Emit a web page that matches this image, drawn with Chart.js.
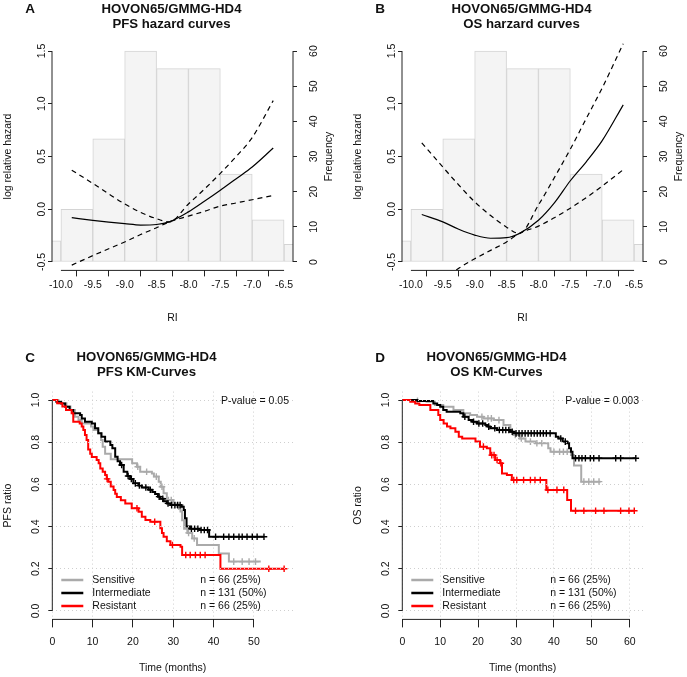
<!DOCTYPE html>
<html>
<head>
<meta charset="utf-8">
<title>HOVON65/GMMG-HD4 hazard and KM curves</title>
<script src="https://cdn.jsdelivr.net/npm/chart.js@4.4.1/dist/chart.umd.min.js"></script>
<style>
  html, body { margin: 0; padding: 0; background: #fff; }
  #fig { position: relative; width: 687px; height: 677px; overflow: hidden; }
  #fig canvas { position: absolute; }
</style>
</head>
<body>
<div id="fig">
  <canvas id="panelA" width="343" height="330" style="left:0;top:0"></canvas>
  <canvas id="panelB" width="343" height="330" style="left:350px;top:0"></canvas>
  <canvas id="panelC" width="343" height="328" style="left:0;top:349px"></canvas>
  <canvas id="panelD" width="343" height="328" style="left:350px;top:349px"></canvas>
</div>
<script>
const FONT = '"Liberation Sans", Arial, Helvetica, sans-serif';

// --- RI histogram (same cohort in A and B) ---
const riBinMids = [-10.25, -9.75, -9.25, -8.75, -8.25, -7.75, -7.25, -6.75, -6.25];
const riBinCounts = [6, 15, 35, 60, 55, 55, 25, 12, 5];

// --- spline fits of log relative hazard against RI ---
const riGrid = [-9.83, -9.5, -9.25, -9.0, -8.75, -8.5, -8.3, -8.0, -7.75, -7.5, -7.25, -7.0, -6.67];
const pfsFit = [-0.08, -0.105, -0.122, -0.137, -0.15, -0.145, -0.12, -0.025, 0.075, 0.18, 0.29, 0.40, 0.58];
const pfsUpper = [0.37, 0.245, 0.145, 0.05, -0.03, -0.09, -0.12, 0.05, 0.19, 0.34, 0.5, 0.68, 1.03];
const pfsLower = [-0.53, -0.44, -0.375, -0.31, -0.24, -0.175, -0.12, -0.065, -0.02, 0.03, 0.06, 0.09, 0.13];
const osFit = [-0.05, -0.12, -0.19, -0.245, -0.275, -0.27, -0.23, -0.105, 0.06, 0.27, 0.45, 0.65, 0.99];
const osUpper = [0.63, 0.40, 0.23, 0.07, -0.06, -0.17, -0.23, 0.04, 0.30, 0.57, 0.86, 1.15, 1.57];
const osLower = [-0.85, -0.67, -0.56, -0.47, -0.39, -0.31, -0.23, -0.16, -0.08, 0.01, 0.11, 0.22, 0.375];

// --- Kaplan-Meier groups ---
const groupNames = ["Sensitive", "Intermediate", "Resistant"];
const groupCounts = [66, 131, 66];
const groupPercent = [25, 50, 25];
const groupColors = ["#aaaaaa", "#000000", "#ff0000"];

// steps are [months, survival after the drop]; censor lists are months only
const pfsSensSteps = [[0,1],[1.5,0.985],[3.5,0.969],[4.5,0.953],[5.6,0.921],[6.5,0.905],[7.3,0.889],[9.6,0.874],[10.2,0.858],[11.4,0.842],[12.1,0.81],[12.5,0.779],[13.1,0.745],[14.5,0.719],[19.8,0.70],[21.0,0.684],[21.8,0.66],[24.7,0.652],[25.2,0.637],[26.4,0.613],[26.9,0.589],[27.6,0.558],[28.4,0.526],[30.0,0.51],[30.9,0.494],[31.8,0.471],[32.2,0.43],[32.7,0.39],[33.5,0.37],[34.7,0.344],[35.9,0.313],[41.3,0.273],[43.8,0.234],[51.7,0.234]];
const pfsSensCens = [21.2, 23.4, 25.8, 27.2, 28.8, 29.5, 31.4, 33.8, 35.2, 45.0, 47.1, 48.8, 50.4];
const pfsInterSteps = [[0,1],[1,0.992],[2.2,0.984],[3.2,0.968],[4.3,0.953],[5.2,0.937],[6.9,0.929],[7.3,0.913],[8.1,0.897],[9.8,0.889],[10.6,0.866],[11.4,0.842],[12.2,0.826],[13.1,0.803],[14.4,0.787],[14.9,0.771],[15.6,0.731],[16.2,0.71],[16.8,0.692],[17.7,0.66],[18.6,0.64],[19.3,0.626],[20.1,0.605],[21.4,0.595],[22.2,0.585],[23.9,0.575],[24.8,0.564],[25.5,0.554],[26.2,0.542],[26.8,0.532],[27.6,0.52],[28.4,0.51],[29.3,0.502],[32.0,0.494],[32.6,0.479],[32.9,0.44],[33.3,0.40],[34.2,0.39],[36.5,0.384],[38.9,0.352],[52.5,0.352]];
const pfsInterCens = [17.2, 18.8, 19.6, 20.6, 21.6, 23.2, 24.3, 26.5, 27.4, 28.7, 29.6, 30.4, 31.1, 31.7, 34.5, 35.3, 36.1, 36.9, 37.7, 38.5, 40.5, 42.5, 43.8, 45.0, 46.3, 47.1, 48.3, 49.6, 50.8, 52.5];
const pfsResSteps = [[0,1],[1.2,0.985],[2.5,0.969],[3.4,0.953],[4.8,0.937],[5.2,0.897],[6.8,0.889],[7.3,0.874],[7.7,0.858],[8.1,0.834],[8.5,0.81],[8.9,0.765],[9.4,0.745],[9.8,0.73],[11.0,0.716],[11.5,0.70],[11.9,0.676],[12.5,0.66],[13.1,0.645],[13.5,0.626],[13.9,0.613],[14.5,0.59],[15.2,0.573],[15.6,0.556],[16.0,0.54],[17.0,0.525],[18.1,0.51],[19.7,0.487],[21.4,0.47],[22.2,0.447],[23.1,0.431],[24.3,0.423],[26.8,0.392],[27.2,0.37],[27.6,0.352],[28.4,0.33],[29.3,0.313],[31.8,0.305],[32.2,0.265],[41.7,0.2],[57.7,0.2]];
const pfsResCens = [13.6, 21.0, 25.4, 29.8, 33.1, 34.2, 35.5, 36.7, 37.9, 53.7, 57.5];

const osSensSteps = [[0,1],[3,0.996],[6.4,0.992],[8.6,0.976],[10.8,0.968],[13.5,0.953],[16.1,0.937],[17.9,0.929],[19.7,0.921],[21.4,0.913],[24.1,0.905],[26.7,0.882],[28.5,0.85],[29.5,0.834],[31.0,0.818],[32.5,0.803],[35.0,0.795],[38.5,0.771],[39.1,0.755],[44.5,0.74],[45.3,0.69],[47.2,0.613],[52.3,0.613]];
const osSensCens = [4.0, 21.0, 22.6, 23.5, 25.5, 29.8, 31.4, 33.8, 35.5, 36.8, 40.0, 41.5, 42.5, 43.5, 47.9, 49.2, 50.5, 51.9];
const osInterSteps = [[0,1],[4,0.996],[8.2,0.984],[9.2,0.976],[10,0.968],[10.8,0.953],[11.7,0.945],[15.3,0.937],[16.1,0.921],[17.5,0.905],[18.5,0.897],[19.7,0.889],[21.9,0.882],[22.5,0.874],[23.2,0.866],[25,0.858],[28.5,0.85],[29.4,0.842],[40.5,0.826],[41.2,0.818],[42.3,0.803],[43.5,0.795],[44,0.771],[44.5,0.755],[44.9,0.724],[61.6,0.724]];
const osInterCens = [16.5, 18.8, 20.2, 21.2, 22.8, 24.4, 25.6, 26.5, 27.3, 28.1, 29.0, 30.0, 30.8, 31.6, 32.4, 33.2, 34.0, 34.8, 35.6, 36.4, 37.2, 38.0, 39.0, 41.8, 43.0, 45.7, 46.6, 47.4, 48.3, 49.6, 50.5, 51.9, 56.3, 57.6, 61.6];
const osResSteps = [[0,1],[2.1,0.992],[3.4,0.984],[4.5,0.976],[7.4,0.953],[9.5,0.929],[10,0.905],[10.9,0.889],[11.8,0.874],[12.7,0.866],[14,0.85],[14.9,0.826],[15.8,0.818],[19.3,0.803],[20.5,0.779],[22.3,0.771],[23.2,0.739],[24.5,0.716],[25.8,0.70],[26.3,0.652],[27.6,0.645],[28.9,0.621],[38.0,0.574],[43.5,0.526],[44.5,0.475],[61.2,0.475]];
const osResCens = [21.4, 23.6, 24.2, 25.0, 26.0, 29.4, 30.2, 32.0, 33.8, 35.0, 36.4, 38.4, 40.8, 42.6, 45.7, 47.9, 51.0, 53.2, 57.6, 59.8, 61.2];

Chart.defaults.font.family = FONT;
Chart.defaults.font.size = 10.5;
Chart.defaults.color = "#111";
Chart.defaults.animation = false;
Chart.defaults.plugins.legend.display = false;
Chart.defaults.plugins.tooltip.enabled = false;

// R draws its axis line only from the first to the last tick
const rAxes = {
  id: "rAxes",
  afterDraw(chart, args, opts) {
    const { ctx, chartArea: a } = chart;
    ctx.save();
    ctx.strokeStyle = "#222";
    ctx.lineWidth = 1;
    (opts.ids || []).forEach((id) => {
      const s = chart.scales[id];
      const p0 = s.getPixelForValue(s.ticks[0].value);
      const p1 = s.getPixelForValue(s.ticks[s.ticks.length - 1].value);
      ctx.beginPath();
      if (s.isHorizontal()) {
        ctx.moveTo(p0, a.bottom);
        ctx.lineTo(p1, a.bottom);
      } else {
        const x = s.position === "right" ? a.right : a.left;
        ctx.moveTo(x, p0);
        ctx.lineTo(x, p1);
      }
      ctx.stroke();
    });
    ctx.restore();
  },
};

// panel letter, right axis title, p-value and the KM legend
const decor = {
  id: "decor",
  afterDraw(chart, args, o) {
    const { ctx, chartArea: a } = chart;
    ctx.save();
    ctx.fillStyle = "#111";
    ctx.textBaseline = "middle";
    if (o.letter) {
      ctx.font = "bold 13.5px " + FONT;
      ctx.textAlign = "center";
      ctx.fillText(o.letter, 30, o.letterY);
    }
    ctx.font = "10.5px " + FONT;
    if (o.rightTitle) {
      ctx.save();
      ctx.translate(a.right + 36, (a.top + a.bottom) / 2);
      ctx.rotate(-Math.PI / 2);
      ctx.textAlign = "center";
      ctx.fillText(o.rightTitle, 0, 0);
      ctx.restore();
    }
    if (o.pValue) {
      ctx.textAlign = "right";
      ctx.fillText(o.pValue, a.right - 4, a.top + 9.5);
    }
    if (o.legend) {
      groupNames.forEach((name, i) => {
        const y = a.bottom - 39.4 + 13 * i;
        ctx.strokeStyle = groupColors[i];
        ctx.lineWidth = 2.5;
        ctx.beginPath();
        ctx.moveTo(a.left + 9, y);
        ctx.lineTo(a.left + 31, y);
        ctx.stroke();
        ctx.textAlign = "left";
        ctx.fillText(name, a.left + 40, y);
        ctx.fillText(`n = ${groupCounts[i]} (${groupPercent[i]}%)`, a.left + 148, y);
      });
    }
    ctx.restore();
  },
};

const fmt1 = (v) => Number(v).toFixed(1);

function hazardCurve(values, dash) {
  return {
    data: riGrid.map((x, i) => ({ x, y: values[i] })),
    borderColor: "#000",
    borderWidth: 1.2,
    borderDash: dash,
    pointRadius: 0,
    cubicInterpolationMode: "monotone",
    yAxisID: "y",
  };
}

function hazardChart(id, letter, subtitle, fit, upper, lower) {
  return new Chart(document.getElementById(id), {
    type: "line",
    data: {
      datasets: [
        hazardCurve(fit, []),
        hazardCurve(upper, [5, 4]),
        hazardCurve(lower, [5, 4]),
        {
          type: "bar",
          data: riBinMids.map((x, i) => ({ x, y: riBinCounts[i] })),
          yAxisID: "y2",
          backgroundColor: "#f4f4f4",
          borderColor: "#d4d4d4",
          borderWidth: 1,
          borderSkipped: false,
          barPercentage: 1,
          categoryPercentage: 1,
        },
      ],
    },
    options: {
      responsive: false,
      layout: { padding: { left: 0, right: 0, top: 0, bottom: 3.7 } },
      scales: {
        x: {
          type: "linear",
          min: -10.14,
          max: -6.36,
          offset: false,
          afterFit: (s) => { s.height = 55.9; },
          border: { display: false },
          grid: { drawOnChartArea: false, tickLength: 6, color: "#222" },
          ticks: { stepSize: 0.5, includeBounds: false, autoSkip: false, maxRotation: 0, padding: 2, callback: fmt1 },
          title: { display: true, text: "RI", padding: { top: 0, bottom: 2 } },
        },
        y: {
          type: "linear",
          position: "left",
          min: -0.58,
          max: 1.58,
          afterFit: (s) => { s.width = 52; },
          border: { display: false },
          grid: { drawOnChartArea: false, tickLength: 4, color: "#222" },
          ticks: { stepSize: 0.5, includeBounds: false, minRotation: 90, maxRotation: 90, crossAlign: "center", padding: -3.5, callback: fmt1 },
          title: { display: true, text: "log relative hazard", padding: { top: 2, bottom: 0 } },
        },
        y2: {
          type: "linear",
          position: "right",
          min: -2.4,
          max: 62.4,
          afterFit: (s) => { s.width = 50; },
          border: { display: false },
          grid: { drawOnChartArea: false, tickLength: 4, color: "#222" },
          ticks: { stepSize: 10, includeBounds: false, minRotation: 90, maxRotation: 90, crossAlign: "center", padding: 11.6 },
        },
      },
      plugins: {
        title: {
          display: true,
          text: ["HOVON65/GMMG-HD4", subtitle],
          color: "#111",
          font: { size: 13.2, weight: "bold", lineHeight: "15.5px" },
          padding: { top: 1.25, bottom: 10.35 },
        },
        rAxes: { ids: ["x", "y", "y2"] },
        decor: { letter, letterY: 9, rightTitle: "Frequency" },
      },
    },
    plugins: [rAxes, decor],
  });
}

function survAt(steps, t) {
  let s = 1;
  steps.forEach(([x, y]) => { if (x <= t) s = y; });
  return s;
}

function kmDatasets(steps, cens, color) {
  return [
    {
      data: steps.map(([x, y]) => ({ x, y })),
      borderColor: color,
      borderWidth: 2,
      stepped: true,
      pointRadius: 0,
    },
    {
      data: cens.map((t) => ({ x: t, y: survAt(steps, t) })),
      showLine: false,
      pointStyle: "cross",
      pointRadius: 3.3,
      pointBorderWidth: 1.4,
      pointBorderColor: color,
      borderColor: color,
    },
  ];
}

function kmChart(id, letter, subtitle, yTitle, xMax, groups, pValue) {
  // groups in legend order; resistant ends up drawn on top
  const datasets = [];
  for (let i = groups.length - 1; i >= 0; i--) {
    datasets.push(...kmDatasets(groups[i][0], groups[i][1], groupColors[i]));
  }
  return new Chart(document.getElementById(id), {
    type: "line",
    data: { datasets },
    options: {
      responsive: false,
      layout: { padding: { left: 0, right: 50, top: 0, bottom: 0.7 } },
      scales: {
        x: {
          type: "linear",
          min: 0,
          max: xMax,
          afterFit: (s) => { s.height = 56.9; },
          border: { display: false, dash: [1, 3] },
          grid: { color: "#cfcfcf", tickLength: 8, tickColor: "#222" },
          ticks: { stepSize: 10, includeBounds: false, autoSkip: false, maxRotation: 0, padding: 8 },
          title: { display: true, text: "Time (months)", padding: { top: 0, bottom: 2 } },
        },
        y: {
          type: "linear",
          min: -0.04,
          max: 1.04,
          afterFit: (s) => { s.width = 52.3; },
          border: { display: false, dash: [1, 3] },
          // grid goes over the curves, as R's grid() call does
          grid: { color: "#cfcfcf", tickLength: 4, tickColor: "#222", z: 1 },
          ticks: { stepSize: 0.2, includeBounds: false, minRotation: 90, maxRotation: 90, crossAlign: "center", padding: 4.8, callback: fmt1 },
          title: { display: true, text: yTitle, padding: { top: 2, bottom: 0 } },
        },
      },
      plugins: {
        title: {
          display: true,
          text: ["HOVON65/GMMG-HD4", subtitle],
          color: "#111",
          font: { size: 13.2, weight: "bold", lineHeight: "15.5px" },
          padding: { top: 0.25, bottom: 11.35 },
        },
        rAxes: { ids: ["x", "y"] },
        decor: { letter, letterY: 9, pValue, legend: true },
      },
    },
    plugins: [rAxes, decor],
  });
}

hazardChart("panelA", "A", "PFS hazard curves", pfsFit, pfsUpper, pfsLower);
hazardChart("panelB", "B", "OS harzard curves", osFit, osUpper, osLower);

kmChart("panelC", "C", "PFS KM-Curves", "PFS ratio", 59.7,
  [[pfsSensSteps, pfsSensCens], [pfsInterSteps, pfsInterCens], [pfsResSteps, pfsResCens]],
  "P-value = 0.05");
kmChart("panelD", "D", "OS KM-Curves", "OS ratio", 63.5,
  [[osSensSteps, osSensCens], [osInterSteps, osInterCens], [osResSteps, osResCens]],
  "P-value = 0.003");
</script>
</body>
</html>
